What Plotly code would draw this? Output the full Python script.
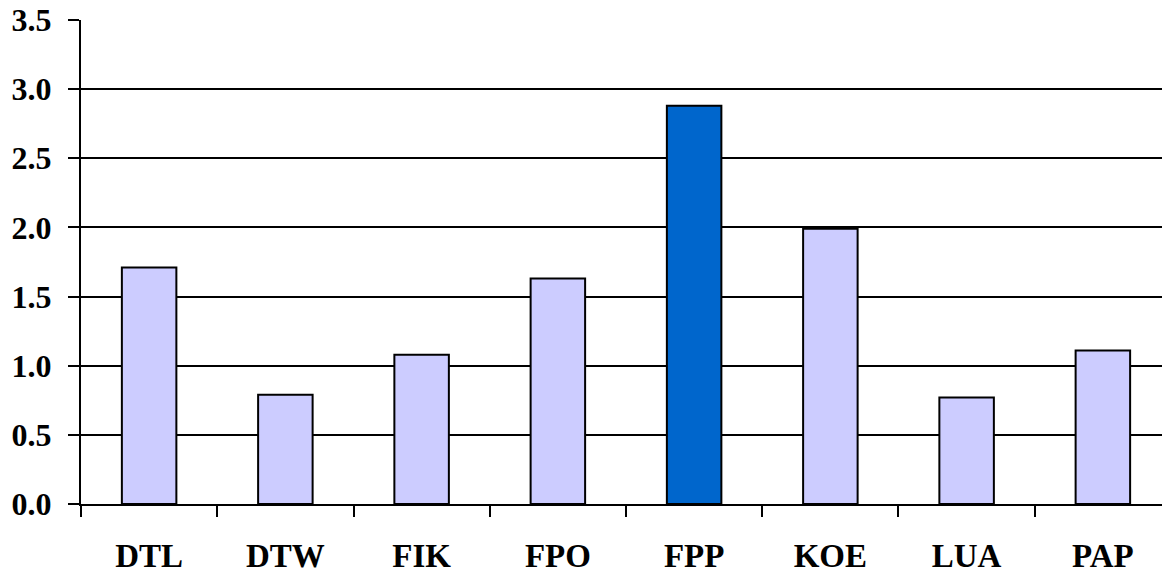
import plotly.graph_objects as go

categories = ["DTL", "DTW", "FIK", "FPO", "FPP", "KOE", "LUA", "PAP"]
values = [1.71, 0.79, 1.08, 1.63, 2.88, 1.99, 0.77, 1.11]
highlight = "FPP"
y_ticks = [0.0, 0.5, 1.0, 1.5, 2.0, 2.5, 3.0, 3.5]
y_labels = [f"{v:.1f}" for v in y_ticks]

colors = ["#0066CC" if c == highlight else "#CCCCFF" for c in categories]

fig = go.Figure(go.Bar(
    x=list(range(len(categories))),
    y=values,
    width=0.4,
    marker=dict(color=colors, line=dict(color="black", width=2)),
))

font = dict(family="Liberation Serif, Times New Roman, serif", size=32, color="black")

fig.update_layout(
    width=1162, height=572,
    margin=dict(l=81, r=0, t=20, b=68),
    paper_bgcolor="white", plot_bgcolor="white",
    showlegend=False,
    font=font,
    xaxis=dict(
        tickmode="array",
        tickvals=list(range(len(categories))),
        ticktext=[f"<b>{c}</b>" for c in categories],
        range=[-0.5, 7.434],
        automargin=False,
        showgrid=False,
        showline=True, linecolor="black", linewidth=2,
        ticks="", ticklabelstandoff=21,
        tickfont=dict(size=33),
        zeroline=False,
        minor=dict(tickmode="array", tickvals=[i - 0.5 for i in range(len(categories) + 1)],
                   ticks="outside", ticklen=11, tickwidth=2, tickcolor="black", showgrid=False),
    ),
    yaxis=dict(
        range=[0, 3.5],
        automargin=False,
        tickmode="array",
        tickvals=y_ticks,
        ticktext=[f"<b>{t}</b>" for t in y_labels],
        showgrid=True, gridcolor="black", gridwidth=2,
        showline=True, linecolor="black", linewidth=2,
        ticks="outside", ticklen=11, tickwidth=2, tickcolor="black",
        ticklabelstandoff=10,
        tickfont=dict(size=32),
        zeroline=False,
    ),
)

fig.write_html("out.html", config={"displayModeBar": False},
               post_script="document.body.style.margin='0';")
